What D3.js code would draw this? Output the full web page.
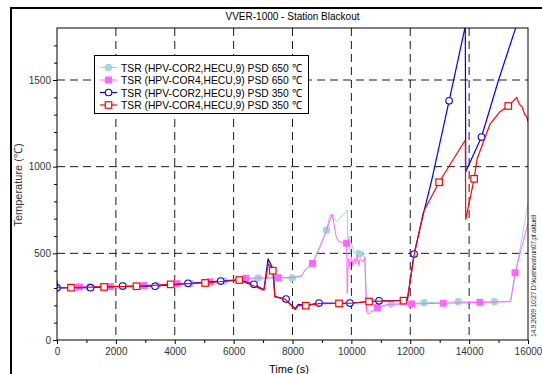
<!DOCTYPE html>
<html>
<head>
<meta charset="utf-8">
<script src="https://cdn.jsdelivr.net/npm/d3@7"></script>
<style>
  body { margin: 0; background: #fff; }
  svg { display: block; font-family: "Liberation Sans", Arial, sans-serif; }
</style>
</head>
<body>
<div id="chart"></div>
<script>
// time (s), temperature (C)
var cor2_650 = [[0,300],[1090,305],[2240,312],[3390,315],[4540,325],[5690,340],[6200,350],[6840,358],[7990,358],
  [8300,368],[8420,404],[8700,450],[9160,635],[9270,721],[9520,683],[9860,750],[9880,540],[9920,600],[9960,500],
  [10000,560],[10100,500],[10200,520],[10270,496],[10350,510],[10450,480],[10520,170],[10700,165],[11350,208],
  [12470,215],[13630,221],[14860,221],[15410,222],[16000,785]];
var cor4_650 = [[0,300],[760,306],[1820,308],[2950,314],[4080,325],[5200,336],[6000,348],[6420,356],[7000,358],
  [7520,359],[8000,360],[8300,370],[8420,400],[8680,442],[9000,560],[9350,727],[9480,600],[9550,571],[9840,552],
  [9860,270],[9900,470],[9950,420],[10000,480],[10050,430],[10100,470],[10150,440],[10200,490],[10250,430],
  [10300,470],[10400,450],[10460,480],[10520,160],[10600,150],[10880,187],[11200,205],[12050,208],[13120,212],
  [14370,217],[15410,221],[15560,388],[16000,673]];
var cor2_350 = [[0,300],[500,302],[1140,302],[2230,310],[3330,310],[4450,326],[5560,340],[6200,345],[6690,321],
  [7030,290],[7170,468],[7350,405],[7400,250],[7750,236],[8090,180],[8200,205],[8450,200],[8900,213],[9500,211],
  [10000,213],[10600,222],[10940,226],[11800,228],[11900,230],[12130,496],[12450,730],[12730,923],[13320,1380],
  [13870,1810],[13885,971],[14420,1171],[15000,1500],[15600,1810]];
var cor4_350 = [[0,345],[30,302],[475,302],[1600,306],[2700,310],[3860,321],[5030,329],[6190,346],[7030,288],
  [7180,440],[7330,400],[7400,250],[7750,236],[8090,175],[8200,200],[8450,198],[8900,210],[9580,211],[10000,212],
  [10600,222],[11000,224],[11770,227],[11900,228],[12130,490],[12450,740],[12980,910],[13870,1154],[13885,696],
  [14170,930],[14270,1044],[14710,1246],[15050,1317],[15330,1350],[15620,1400],[15680,1370],[15730,1356],
  [15800,1345],[15850,1320],[15900,1298],[15950,1290],[16000,1260]];

// marker positions
var cor2_650_marks = [[0,300],[1090,305],[2240,312],[3390,315],[4540,325],[5690,340],[6840,358],[7990,358],
  [9160,635],[10270,496],[11350,208],[12470,215],[13630,221],[14860,221]];
var cor4_650_marks = [[760,306],[1820,308],[2950,314],[4080,325],[5200,336],[6420,356],[7520,359],[8680,442],
  [9840,558],[10880,187],[12050,208],[13120,212],[14370,217],[15560,388]];
var cor2_350_marks = [[0,302],[1140,302],[2230,311],[3330,310],[4450,327],[5560,340],[6690,321],[7780,236],
  [8900,213],[9950,213],[10940,226],[12130,496],[13320,1380],[14420,1171]];
var cor4_350_marks = [[475,302],[1600,306],[2700,310],[3860,321],[5030,329],[6190,346],[7330,400],[8450,198],
  [9580,211],[10600,222],[11770,227],[12980,910],[14170,930],[15330,1350]];

var seriesNames = ["TSR (HPV-COR2,HECU,9) PSD 650 \u2103", "TSR (HPV-COR4,HECU,9) PSD 650 \u2103",
  "TSR (HPV-COR2,HECU,9) PSD 350 \u2103", "TSR (HPV-COR4,HECU,9) PSD 350 \u2103"];
var xTicks = [0, 2000, 4000, 6000, 8000, 10000, 12000, 14000, 16000];
var yTicks = [0, 500, 1000, 1500];

var W = 542, H = 374;
var mLeft = 57, mRight = 528, mTop = 28, mBottom = 340;

var svg = d3.select("#chart").append("svg").attr("width", W).attr("height", H);

// outer frame
svg.append("line").attr("x1", 10).attr("x2", W).attr("y1", 8).attr("y2", 8).attr("stroke", "#000").attr("stroke-width", 2);
svg.append("line").attr("x1", 11).attr("x2", 11).attr("y1", 8).attr("y2", H).attr("stroke", "#000").attr("stroke-width", 2);

var x = d3.scaleLinear().domain([0, 16000]).range([mLeft, mRight]);
var y = d3.scaleLinear().domain([0, 1800]).range([mBottom, mTop]);

svg.append("defs").append("clipPath").attr("id", "clip")
  .append("rect").attr("x", mLeft).attr("y", mTop).attr("width", mRight - mLeft).attr("height", mBottom - mTop);

// grid
var grid = svg.append("g").attr("stroke", "#1a1a1a").attr("stroke-width", 1).attr("stroke-dasharray", "8,5");
grid.selectAll(".gx").data(xTicks.slice(1, -1)).enter().append("line")
  .attr("x1", function (d) { return x(d); }).attr("x2", function (d) { return x(d); })
  .attr("y1", mTop).attr("y2", mBottom);
grid.selectAll(".gy").data(yTicks.slice(1)).enter().append("line")
  .attr("y1", function (d) { return y(d); }).attr("y2", function (d) { return y(d); })
  .attr("x1", mLeft).attr("x2", mRight);

// axes
var xAxis = d3.axisBottom(x).tickValues(xTicks).tickSize(4).tickPadding(4).tickFormat(d3.format("d"));
var xMinor = d3.axisBottom(x).tickValues(d3.range(1000, 16000, 2000)).tickSize(3).tickFormat("");
var yAxis = d3.axisLeft(y).tickValues(yTicks).tickSize(4).tickPadding(2).tickFormat(d3.format("d"));
var yMinor = d3.axisLeft(y).tickValues(d3.range(100, 1800, 100).filter(function (v) { return v % 500; })).tickSize(3).tickFormat("");

function styleAxis(g) {
  g.select(".domain").remove();
  g.selectAll("line").attr("stroke", "#000");
  g.selectAll("text").attr("fill", "#333").style("font-size", "10px").style("font-family", "Liberation Sans, Arial, sans-serif");
}
svg.append("g").attr("transform", "translate(0," + mBottom + ")").call(xAxis).call(styleAxis);
svg.append("g").attr("transform", "translate(0," + mBottom + ")").call(xMinor).call(styleAxis);
svg.append("g").attr("transform", "translate(" + mLeft + ",0)").call(yAxis).call(styleAxis);
svg.append("g").attr("transform", "translate(" + mLeft + ",0)").call(yMinor).call(styleAxis);

// series
var styles = [
  { data: cor2_650, marks: cor2_650_marks, color: "#a3d6d6", width: 1, shape: "circle", fill: true },
  { data: cor4_650, marks: cor4_650_marks, color: "#ff66ff", width: 1, shape: "square", fill: true },
  { data: cor2_350, marks: cor2_350_marks, color: "#0000ff", width: 1.2, shape: "circle", fill: false },
  { data: cor4_350, marks: cor4_350_marks, color: "#ff0000", width: 1.2, shape: "square", fill: false }
];

var line = d3.line().x(function (d) { return x(d[0]); }).y(function (d) { return y(d[1]); });
var plot = svg.append("g").attr("clip-path", "url(#clip)");

function drawMarker(g, s, cx, cy) {
  if (s.shape === "circle") {
    g.append("circle").attr("cx", cx).attr("cy", cy).attr("r", s.fill ? 3.8 : 3.3)
      .attr("fill", s.fill ? s.color : "#fff").attr("stroke", s.color).attr("stroke-width", s.fill ? 0 : 1.1);
  } else {
    var a = s.fill ? 7 : 6.5;
    g.append("rect").attr("x", cx - a / 2).attr("y", cy - a / 2).attr("width", a).attr("height", a)
      .attr("fill", s.fill ? s.color : "#fff").attr("stroke", s.color).attr("stroke-width", s.fill ? 0 : 1.2);
  }
}

styles.forEach(function (s) {
  plot.append("path").datum(s.data).attr("d", line).attr("fill", "none")
    .attr("stroke", s.color).attr("stroke-width", s.width).attr("stroke-linejoin", "round");
  var mg = plot.append("g");
  s.marks.forEach(function (m) { drawMarker(mg, s, x(m[0]), y(m[1])); });
});

// plot border
svg.append("rect").attr("x", mLeft).attr("y", mTop).attr("width", mRight - mLeft).attr("height", mBottom - mTop)
  .attr("fill", "none").attr("stroke", "#000").attr("stroke-width", 1);

// legend
var lg = svg.append("g");
lg.append("rect").attr("x", 94.5).attr("y", 55.5).attr("width", 214).attr("height", 58)
  .attr("fill", "#fff").attr("stroke", "#000").attr("stroke-width", 1);
styles.forEach(function (s, i) {
  var cy = 67.5 + i * 12.5;
  lg.append("line").attr("x1", 100).attr("x2", 117).attr("y1", cy).attr("y2", cy)
    .attr("stroke", s.color).attr("stroke-width", s.width);
  drawMarker(lg, s, 108.5, cy);
  lg.append("text").attr("x", 121).attr("y", cy + 4).attr("fill", "#000")
    .attr("textLength", 181).attr("lengthAdjust", "spacingAndGlyphs")
    .style("font-size", "11px").text(seriesNames[i]);
});

// titles
svg.append("text").attr("x", (mLeft + mRight) / 2).attr("y", 20).attr("text-anchor", "middle")
  .style("font-size", "10px").attr("fill", "#000").text("VVER-1000 - Station Blackout");
svg.append("text").attr("x", 289).attr("y", 373).attr("text-anchor", "middle")
  .style("font-size", "11px").attr("fill", "#000").text("Time (s)");
svg.append("text").attr("transform", "translate(22,185) rotate(-90)").attr("text-anchor", "middle")
  .style("font-size", "11px").attr("fill", "#333").text("Temperature (\u2103)");
svg.append("text").attr("transform", "translate(536,337) rotate(-90)").attr("text-anchor", "start")
  .attr("textLength", 122).attr("lengthAdjust", "spacing")
  .style("font-size", "7px").attr("fill", "#333").text("14.9.2009   10:27   D:\\kusheva\\run07.pt  aktuell");
</script>
</body>
</html>
